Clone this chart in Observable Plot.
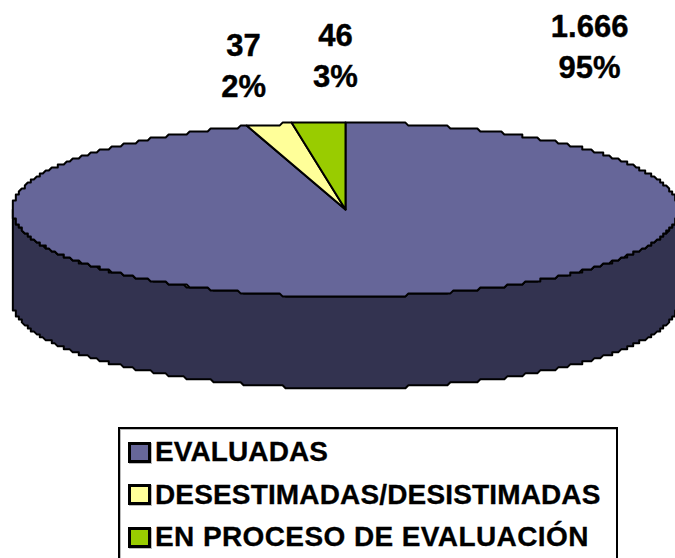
<!DOCTYPE html>
<html><head><meta charset="utf-8">
<script src="https://cdn.jsdelivr.net/npm/d3@7"></script>
<script src="https://cdn.jsdelivr.net/npm/@observablehq/plot@0.6"></script>
<style>
html,body{margin:0;padding:0;background:#fff;overflow:hidden;height:558px}
#legend{box-sizing:border-box;margin:7px 0 0 118px;width:500px;height:150px;border:2px solid #000;box-shadow:inset 1px 1px 0 #bbb;font:bold 28px "Liberation Sans",Arial,sans-serif;color:#000;padding:2px 0 0 8px;-webkit-text-stroke:0.3px #000}
.row{display:flex;align-items:center;height:42.5px;white-space:nowrap}
.sw{box-sizing:border-box;width:23px;height:21px;border:3px solid #000;margin-right:4px;flex:none;box-shadow:1px 1px 0 #bbb}
</style></head><body>
<div id="chart"></div>
<div id="legend"></div>
<script>
const categories = ["EVALUADAS","DESESTIMADAS/DESISTIMADAS","EN PROCESO DE EVALUACIÓN"];
const values = [1666,37,46];
const colors = ["#666699","#FFFF99","#99CC00"];
const sideName = "lado";
const sideColor = "#333350";
const legendTracking = [0.1,0.15,0.4];

const total = d3.sum(values);
const fmt = d3.formatLocale({thousands:".",decimal:",",grouping:[3],currency:["",""]}).format(",");
const labelText = values.map(v => `${fmt(v)}\n${Math.round(v/total*100)}%`);

// pie shape in units of the horizontal radius
const ry = 0.261, depth = 0.276, q = 0.009, stepDeg = 0.6;
const qz = v => Math.round(v/q)*q;
const pt = (deg, off=0) => {
  const a = deg*Math.PI/180;
  return {x: qz(Math.sin(a)), y: qz(Math.cos(a)*ry) - off};
};
const arc = (a0,a1,off=0) => {
  const n = Math.max(1,Math.ceil((a1-a0)/stepDeg));
  return d3.range(n+1).map(i => pt(a0+(a1-a0)*i/n,off));
};
let acc = 0;
const outline = [];
// visible wall: lower half of the rim
const wall = [...arc(90,270), ...arc(90,270,depth).reverse()];
wall.push(wall[0]);
wall.forEach(p => outline.push({...p,name:sideName}));
categories.forEach((name,i) => {
  const a0 = acc/total*360; acc += values[i]; const a1 = acc/total*360;
  const poly = [{x:0,y:0},...arc(a0,a1),{x:0,y:0}];
  poly.forEach(p => outline.push({...p,name}));
});

// label anchors are in the same unit as the pie
const labelAt = [[0.733,0.497],[-0.306,0.44],[-0.03,0.468]];
const labels = values.map((v,i) => ({x:labelAt[i][0],y:labelAt[i][1],t:labelText[i]}));

const W = 675, H = 420, rPx = 333, cx = 345, cy = 209;
const chart = Plot.plot({
  width:W,height:H,margin:0,
  style:{background:"transparent"},
  x:{domain:[-cx/rPx,(W-cx)/rPx],axis:null},
  y:{domain:[-(H-cy)/rPx,cy/rPx],axis:null},
  color:{domain:[sideName,...categories],range:[sideColor,...colors]},
  marks:[
    Plot.line(outline,{x:"x",y:"y",z:"name",fill:"name",stroke:"#000",strokeWidth:2,curve:"linear",strokeLinejoin:"round",clip:true}),
    Plot.text(labels,{x:"x",y:"y",text:"t",fontSize:31,fontWeight:"bold",lineHeight:1.33,fill:"#000",stroke:"#000",strokeWidth:0.4,
      fontFamily:"'Liberation Sans',Arial,sans-serif",lineAnchor:"middle",textAnchor:"middle"})
  ]
});
document.getElementById("chart").appendChild(chart);
chart.style.display="block";

const lg = d3.select("#legend");
categories.forEach((c,i)=>{
  const r = lg.append("div").attr("class","row");
  r.append("div").attr("class","sw").style("background",colors[i]);
  r.append("span").text(c).style("letter-spacing",legendTracking[i]+"px");
});
</script>
</body></html>
